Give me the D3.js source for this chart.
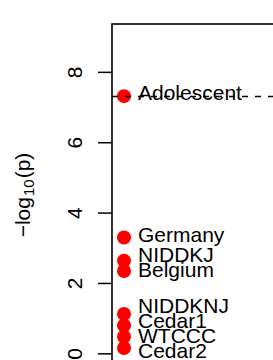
<!DOCTYPE html>
<html>
<head>
<meta charset="utf-8">
<script src="https://cdn.jsdelivr.net/npm/d3@7"></script>
<style>
  body { margin: 0; background: #fff; }
  svg { display: block; font-family: "Liberation Sans", Arial, Helvetica, sans-serif; }
</style>
</head>
<body>
<svg id="chart" width="273" height="360"></svg>
<script>
// studies and their -log10(p) values
var studyNames = ["Adolescent", "Germany", "NIDDKJ", "Belgium", "NIDDKNJ", "Cedar1", "WTCCC", "Cedar2"];
var studyLogP = [7.31, 3.29, 2.63, 2.34, 1.12, 0.79, 0.47, 0.15];
var yTicks = [0, 2, 4, 6, 8];
var yLimits = [0, 9];
var significanceLine = 7.3;

var svg = d3.select("#chart");
var width = +svg.attr("width");

// R style axis extension of 4% at both ends
var ext = (yLimits[1] - yLimits[0]) * 0.04;
var yScale = d3.scaleLinear()
    .domain([yLimits[0] - ext, yLimits[1] + ext])
    .range([366, 24]);

// every study sits at x = 1, plot box runs past the right edge
var xScale = d3.scaleLinear()
    .domain([0.95, 2])
    .range([112, 364]);

// box (only top and left are visible)
svg.append("rect")
    .attr("x", xScale.range()[0])
    .attr("y", yScale.range()[1])
    .attr("width", xScale.range()[1] - xScale.range()[0])
    .attr("height", yScale.range()[0] - yScale.range()[1])
    .attr("fill", "none")
    .attr("stroke", "#000")
    .attr("stroke-width", 1.6);

// y axis
var yAxis = d3.axisLeft(yScale)
    .tickValues(yTicks)
    .tickSize(14)
    .tickPadding(16)
    .tickFormat(d3.format("d"));

var gAxis = svg.append("g")
    .attr("transform", "translate(" + xScale.range()[0] + ",0)")
    .call(yAxis);
gAxis.select(".domain").remove();
gAxis.selectAll(".tick line").attr("stroke", "#000").attr("stroke-width", 1.5);
gAxis.selectAll(".tick text")
    .attr("font-size", 21)
    .attr("fill", "#000")
    .attr("x", null)
    .attr("dy", null)
    .attr("text-anchor", "middle")
    .attr("transform", "translate(-30,0) rotate(-90)");

// axis title: -log10(p)
var title = svg.append("text")
    .attr("transform", "translate(30," + ((yScale.range()[0] + yScale.range()[1]) / 2) + ") rotate(-90)")
    .attr("text-anchor", "middle")
    .attr("font-size", 21)
    .attr("fill", "#000");
title.append("tspan").text("\u2212log");
title.append("tspan").attr("font-size", 15).attr("dy", 4).attr("dx", 1).text("10");
title.append("tspan").attr("dy", -4).attr("dx", 1).text("(p)");

// points
svg.selectAll("circle.study")
    .data(studyLogP)
    .enter().append("circle")
    .attr("class", "study")
    .attr("cx", xScale(1))
    .attr("cy", function (d) { return yScale(d); })
    .attr("r", 7)
    .attr("fill", "#ff0000");

// labels: baseline a bit under the point, pushed apart where they collide
function spreadLabels(ys, gap) {
    var order = ys.map(function (y, i) { return i; }).sort(function (a, b) { return ys[a] - ys[b]; });
    var clusters = order.map(function (i) { return { idx: [i], mean: ys[i] }; });
    var merged = true;
    while (merged) {
        merged = false;
        for (var k = 1; k < clusters.length; k++) {
            var prev = clusters[k - 1], cur = clusters[k];
            var prevBottom = prev.mean + (prev.idx.length - 1) * gap / 2;
            var curTop = cur.mean - (cur.idx.length - 1) * gap / 2;
            if (curTop - prevBottom < gap) {
                var all = prev.idx.concat(cur.idx);
                prev.idx = all;
                prev.mean = d3.mean(all, function (i) { return ys[i]; });
                clusters.splice(k, 1);
                merged = true;
                break;
            }
        }
    }
    var out = [];
    clusters.forEach(function (c) {
        c.idx.forEach(function (i, j) {
            out[i] = c.mean + (j - (c.idx.length - 1) / 2) * gap;
        });
    });
    return out;
}

var labelY = spreadLabels(studyLogP.map(function (d) { return yScale(d) + 4; }), 15);

svg.selectAll("text.study")
    .data(studyNames)
    .enter().append("text")
    .attr("class", "study")
    .attr("x", xScale(1) + 14)
    .attr("y", function (d, i) { return labelY[i]; })
    .attr("font-size", 21)
    .attr("fill", "#000")
    .text(function (d) { return d; });

// genome-wide significance line, drawn over points and text
svg.append("line")
    .attr("x1", xScale.range()[0])
    .attr("x2", width)
    .attr("y1", yScale(significanceLine))
    .attr("y2", yScale(significanceLine))
    .attr("stroke", "#000")
    .attr("stroke-width", 1.5)
    .attr("stroke-dasharray", "6,7");
</script>
</body>
</html>
